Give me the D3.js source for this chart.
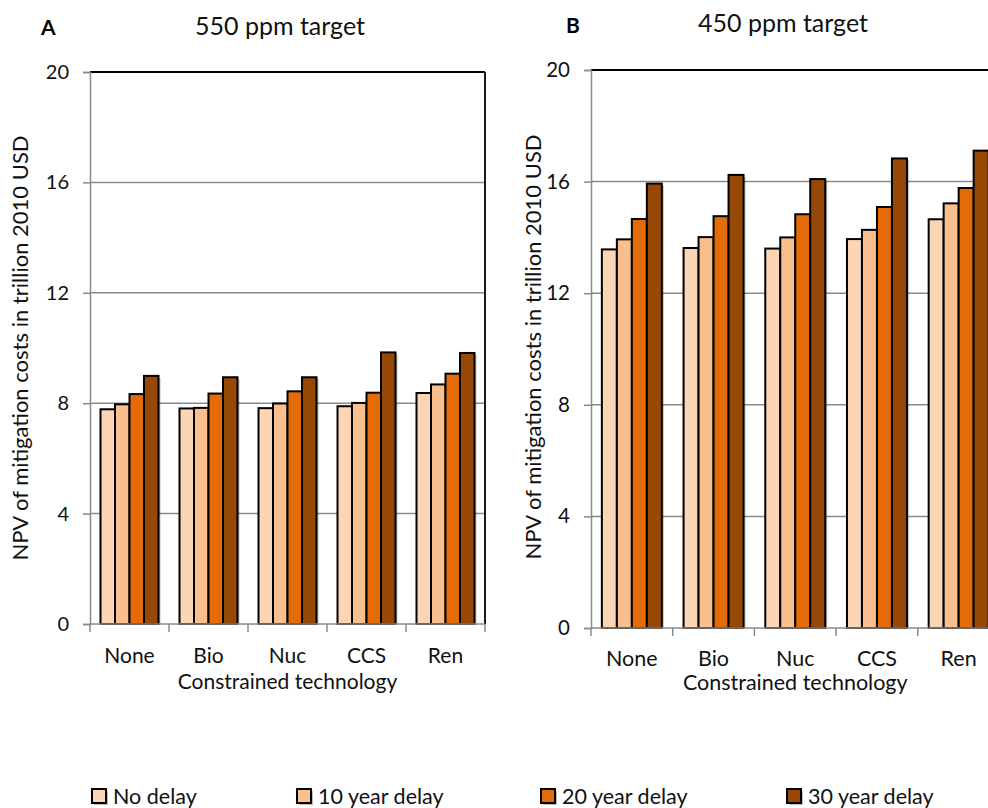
<!DOCTYPE html>
<html><head><meta charset="utf-8">
<script src="https://cdn.jsdelivr.net/npm/d3@7"></script>
<style>body{margin:0;background:#fff}svg{display:block;font-family:Lato,"Open Sans",sans-serif}</style>
</head><body><div id="chart"></div>
<script>
// ---- data ----
const categories = ["None", "Bio", "Nuc", "CCS", "Ren"];
const seriesNames = ["No delay", "10 year delay", "20 year delay", "30 year delay"];
const seriesColors = ["#FCD5B4", "#FABF8F", "#E36C09", "#974806"];
const yTicks = [0, 4, 8, 12, 16, 20];
// Panel A: 550 ppm target
const noDelayA = [7.78, 7.81, 7.82, 7.89, 8.37];
const delay10A = [7.96, 7.83, 7.99, 8.01, 8.68];
const delay20A = [8.33, 8.35, 8.43, 8.38, 9.07];
const delay30A = [8.99, 8.94, 8.94, 9.84, 9.82];
// Panel B: 450 ppm target
const noDelayB = [13.57, 13.62, 13.60, 13.94, 14.65];
const delay10B = [13.93, 14.01, 14.00, 14.27, 15.22];
const delay20B = [14.66, 14.76, 14.83, 15.09, 15.77];
const delay30B = [15.93, 16.24, 16.09, 16.83, 17.11];

const W = 988, H = 808;
const svg = d3.select("#chart").append("svg").attr("width", W).attr("height", H);

function drawPanel(o) {
  const g = svg.append("g");
  const series = o.values;
  const x = d3.scaleBand().domain(categories).range([o.x0, o.x1]).paddingInner(0).paddingOuter(0);
  const gap = x.bandwidth() * 0.266;
  const xi = d3.scaleBand().domain(seriesNames).range([gap / 2, x.bandwidth() - gap / 2]).padding(0);
  const y = d3.scaleLinear().domain([0, 20]).range([o.yB, o.yT]);

  // gridlines
  g.selectAll(".grid").data(yTicks.filter(t => t > 0 && t < 20)).join("line")
    .attr("x1", o.x0).attr("x2", o.x1).attr("y1", d => y(d)).attr("y2", d => y(d))
    .attr("stroke", "#8a8a8a").attr("stroke-width", 1.5);

  // top & right frame
  g.append("line").attr("x1", o.x0).attr("x2", o.x1).attr("y1", y(20)).attr("y2", y(20))
    .attr("stroke", "#000").attr("stroke-width", 1.8);
  g.append("line").attr("x1", o.x1).attr("x2", o.x1).attr("y1", y(20)).attr("y2", y(0))
    .attr("stroke", "#000").attr("stroke-width", 1.8);

  // y axis
  const yAxis = d3.axisLeft(y).tickValues(yTicks).tickSize(7).tickPadding(14).tickFormat(d3.format("d"));
  const ya = g.append("g").attr("transform", `translate(${o.x0},0)`).call(yAxis);
  ya.select(".domain").attr("stroke", "#8a8a8a").attr("stroke-width", 1.5);
  ya.selectAll(".tick line").attr("stroke", "#8a8a8a").attr("stroke-width", 1.5);
  ya.selectAll(".tick text").attr("font-size", o.tickFs).attr("fill", "#111").attr("font-family", "Lato");

  // bars
  const grp = g.selectAll(".cat").data(categories).join("g")
    .attr("transform", d => `translate(${x(d)},0)`);
  const rows = (c, ci) => seriesNames.map((s, si) => ({ s, si, v: series[si][ci] }));
  grp.each(function (c, ci) {
    const sel = d3.select(this);
    sel.selectAll(".sh").data(rows(c, ci)).join("rect")
      .attr("x", d => xi(d.s) + 2).attr("y", d => y(d.v) + 2)
      .attr("width", xi.bandwidth()).attr("height", d => y(0) - y(d.v) - 2)
      .attr("fill", "#000").attr("opacity", 0.25);
    sel.selectAll(".bar").data(rows(c, ci)).join("rect")
      .attr("x", d => xi(d.s)).attr("y", d => y(d.v))
      .attr("width", xi.bandwidth()).attr("height", d => y(0) - y(d.v))
      .attr("fill", d => seriesColors[d.si]).attr("stroke", "#000").attr("stroke-width", 2);
  });

  // x axis
  g.append("line").attr("x1", o.x0).attr("x2", o.x1).attr("y1", y(0)).attr("y2", y(0))
    .attr("stroke", "#8a8a8a").attr("stroke-width", 1.5);
  const bounds = categories.map(c => x(c)).concat([o.x1]);
  g.selectAll(".xt").data(bounds).join("line")
    .attr("x1", d => d).attr("x2", d => d).attr("y1", y(0)).attr("y2", y(0) + 8)
    .attr("stroke", "#8a8a8a").attr("stroke-width", 1.5);
  g.selectAll(".xl").data(categories).join("text")
    .attr("x", d => x(d) + x.bandwidth() / 2).attr("y", y(0) + o.xLabDy)
    .attr("text-anchor", "middle").attr("font-size", o.catFs).attr("fill", "#111").text(d => d);
  g.append("text").attr("x", (o.x0 + o.x1) / 2).attr("y", y(0) + o.xTitleDy)
    .attr("text-anchor", "middle").attr("font-size", o.catFs).attr("fill", "#111").text("Constrained technology");

  // y title
  g.append("text").attr("transform", `translate(${o.yTitleX},${o.yTitleY}) rotate(-90)`)
    .attr("text-anchor", "middle").attr("font-size", o.yTitleFs).attr("fill", "#111")
    .text("NPV of mitigation costs in trillion 2010 USD");

  // title & letter
  g.append("text").attr("x", o.titleX).attr("y", o.titleY).attr("text-anchor", "middle")
    .attr("font-size", o.titleFs).attr("fill", "#111").text(o.title);
  g.append("text").attr("x", o.letterX).attr("y", o.letterY)
    .attr("font-size", 21).attr("font-weight", "bold").attr("fill", "#000").text(o.letter);
}

drawPanel({
  values: [noDelayA, delay10A, delay20A, delay30A],
  x0: 90, x1: 485, yT: 72, yB: 624,
  tickFs: 20, catFs: 21, yTitleFs: 22,
  xLabDy: 39, xTitleDy: 65,
  yTitleX: 28, yTitleY: 348,
  title: "550 ppm target", titleX: 280, titleY: 35, titleFs: 25,
  letter: "A", letterX: 41, letterY: 35
});
drawPanel({
  values: [noDelayB, delay10B, delay20B, delay30B],
  x0: 591, x1: 999.5, yT: 70, yB: 628,
  tickFs: 20.5, catFs: 21.5, yTitleFs: 22,
  xLabDy: 38, xTitleDy: 62,
  yTitleX: 541, yTitleY: 347,
  title: "450 ppm target", titleX: 783, titleY: 32, titleFs: 25,
  letter: "B", letterX: 566, letterY: 33
});

// legend
const legendX = [92, 297, 541, 787];
const leg = svg.selectAll(".leg").data(seriesNames).join("g")
  .attr("transform", (d, i) => `translate(${legendX[i]},789)`);
leg.append("rect").attr("x", 2).attr("y", 2).attr("width", 14).attr("height", 14).attr("fill", "#000").attr("opacity", 0.25);
leg.append("rect").attr("width", 14).attr("height", 14)
  .attr("fill", (d, i) => seriesColors[i]).attr("stroke", "#000").attr("stroke-width", 2);
leg.append("text").attr("x", 21).attr("y", 15).attr("font-size", 21.5).attr("fill", "#111").text(d => d);
</script>
</body></html>
